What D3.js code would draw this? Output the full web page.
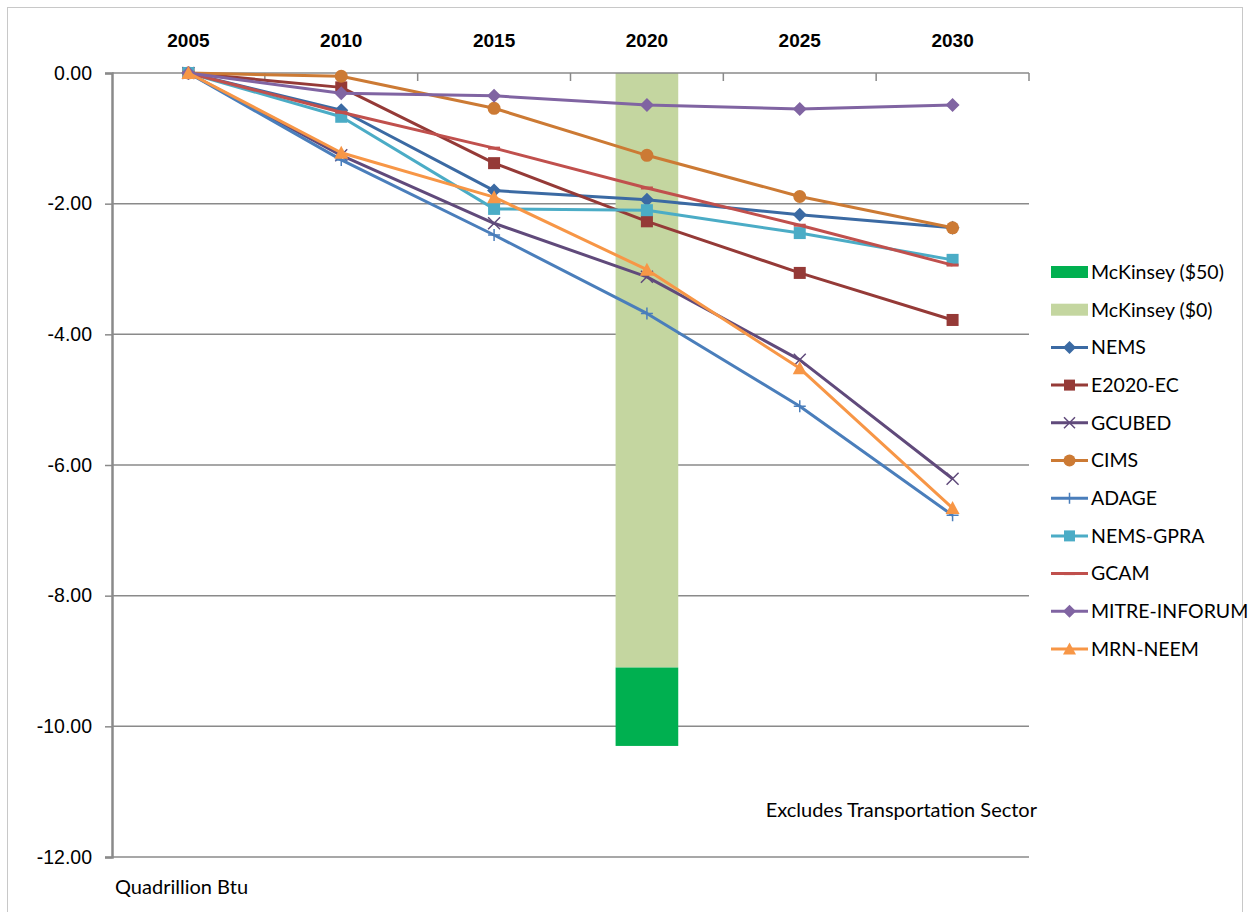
<!DOCTYPE html>
<html lang="en">
<head>
  <meta charset="UTF-8">
  <title>Energy reduction by model</title>
  <script src="https://d3js.org/d3.v7.min.js"></script>
  <style>
    body {
      margin: 0;
      background: #ffffff;
    }
    svg {
      font-family: Lato, "Open Sans", sans-serif;
    }
    .yaxis text {
      font-size: 19.5px;
      fill: #000;
    }
    .xaxis text {
      font-size: 19px;
      font-weight: bold;
      fill: #000;
    }
    .legend text {
      font-size: 19.5px;
      fill: #000;
    }
  </style>
</head>
<body>
  <svg width="1250" height="912"></svg>

  <script>
    // data
    const years = ["2005", "2010", "2015", "2020", "2025", "2030"];
    const yTicks = [0, -2, -4, -6, -8, -10, -12];

    const mckinseyYear = "2020";
    const mckinsey0 = -9.1;    // McKinsey ($0)
    const mckinsey50 = -10.3;  // McKinsey ($50), bottom of the stacked bar

    const nems        = [0, -0.57, -1.80, -1.94, -2.17, -2.37];
    const e2020ec     = [0, -0.22, -1.38, -2.27, -3.06, -3.78];
    const gcubed      = [0, -1.26, -2.30, -3.12, -4.39, -6.21];
    const cims        = [0, -0.05, -0.54, -1.26, -1.89, -2.37];
    const adage       = [0, -1.33, -2.48, -3.68, -5.10, -6.77];
    const nemsGpra    = [0, -0.67, -2.08, -2.10, -2.45, -2.86];
    const gcam        = [0, -0.60, -1.15, -1.76, -2.33, -2.94];
    const mitre       = [0, -0.31, -0.35, -0.49, -0.55, -0.49];
    const mrnNeem     = [0, -1.22, -1.90, -3.01, -4.52, -6.66];

    const series = [
      { name: "NEMS", values: nems, color: "#3b6aa3", marker: "diamond" },
      { name: "E2020-EC", values: e2020ec, color: "#953a37", marker: "square" },
      { name: "GCUBED", values: gcubed, color: "#604a7b", marker: "x" },
      { name: "CIMS", values: cims, color: "#cc7a34", marker: "circle" },
      { name: "ADAGE", values: adage, color: "#4a7ebb", marker: "plus" },
      { name: "NEMS-GPRA", values: nemsGpra, color: "#4bacc6", marker: "square" },
      { name: "GCAM", values: gcam, color: "#c0504d", marker: "dash" },
      { name: "MITRE-INFORUM", values: mitre, color: "#8064a2", marker: "diamond" },
      { name: "MRN-NEEM", values: mrnNeem, color: "#f79646", marker: "triangle" }
    ];

    const svg = d3.select("svg");

    // outer chart frame
    svg.append("rect")
      .attr("x", 7.5).attr("y", 7.5)
      .attr("width", 1235).attr("height", 920)
      .attr("fill", "none")
      .attr("stroke", "#c8c8c8");

    const x = d3.scaleBand()
      .domain(years)
      .range([112, 1029])
      .padding(0);

    const y = d3.scaleLinear()
      .domain([-12, 0])
      .range([857, 73]);

    // gridlines
    svg.append("g")
      .selectAll("line")
      .data(yTicks.filter(d => d !== 0))
      .join("line")
      .attr("x1", 112).attr("x2", 1029)
      .attr("y1", d => y(d)).attr("y2", d => y(d))
      .attr("stroke", "#8a8a8a")
      .attr("stroke-width", 1.5);

    // McKinsey bars
    const bw = x.bandwidth() * 0.41;
    const bx = x(mckinseyYear) + (x.bandwidth() - bw) / 2;
    svg.append("rect")
      .attr("x", bx).attr("width", bw)
      .attr("y", y(0)).attr("height", y(mckinsey0) - y(0))
      .attr("fill", "#c4d6a0");
    svg.append("rect")
      .attr("x", bx).attr("width", bw)
      .attr("y", y(mckinsey0)).attr("height", y(mckinsey50) - y(mckinsey0))
      .attr("fill", "#00b050");

    // y axis
    const yAxis = svg.append("g")
      .attr("class", "yaxis")
      .attr("transform", "translate(112,0)")
      .call(d3.axisLeft(y).tickValues(yTicks).tickSize(7).tickPadding(13)
        .tickFormat(d => d.toFixed(2)));
    yAxis.select(".domain").attr("stroke", "#8a8a8a").attr("stroke-width", 2.5);
    yAxis.selectAll(".tick line").attr("stroke", "#8a8a8a").attr("stroke-width", 1.5);

    // top category axis at zero
    const xAxis = svg.append("g")
      .attr("class", "xaxis")
      .attr("transform", `translate(0,${y(0)})`)
      .call(d3.axisTop(x).tickSize(0).tickPadding(26));
    xAxis.select(".domain").remove();
    svg.append("line")
      .attr("x1", 112).attr("x2", 1029)
      .attr("y1", y(0)).attr("y2", y(0))
      .attr("stroke", "#8a8a8a").attr("stroke-width", 1.5);
    svg.append("g")
      .selectAll("line")
      .data(years.slice(1).concat(["end"]))
      .join("line")
      .attr("x1", d => d === "end" ? 1029 : x(d))
      .attr("x2", d => d === "end" ? 1029 : x(d))
      .attr("y1", y(0)).attr("y2", y(0) + 8)
      .attr("stroke", "#8a8a8a").attr("stroke-width", 1.5);

    const cx = i => x(years[i]) + x.bandwidth() / 2;

    function drawMarker(g, type, color, size) {
      const s = size;
      const h = s / 2;
      if (type === "diamond") {
        g.append("path").attr("d", `M0,${-h - 1}L${h + 1},0L0,${h + 1}L${-h - 1},0Z`)
          .attr("fill", color);
      } else if (type === "square") {
        g.append("rect").attr("x", -h).attr("y", -h)
          .attr("width", s).attr("height", s).attr("fill", color);
      } else if (type === "circle") {
        g.append("circle").attr("r", h + 0.5).attr("fill", color);
      } else if (type === "triangle") {
        g.append("path").attr("d", `M0,${-h - 1}L${h + 1},${h}L${-h - 1},${h}Z`)
          .attr("fill", color);
      } else if (type === "x") {
        g.append("path").attr("d", `M${-h},${-h}L${h},${h}M${-h},${h}L${h},${-h}`)
          .attr("stroke", color).attr("stroke-width", 1.5).attr("fill", "none");
      } else if (type === "plus") {
        g.append("path").attr("d", `M${-h},0L${h},0M0,${-h}L0,${h}`)
          .attr("stroke", color).attr("stroke-width", 1.5).attr("fill", "none");
      } else if (type === "dash") {
        g.append("path").attr("d", `M${-h},0L${h},0`)
          .attr("stroke", color).attr("stroke-width", 3).attr("fill", "none");
      }
    }

    const line = d3.line()
      .x((d, i) => cx(i))
      .y(d => y(d));

    series.forEach(s => {
      const g = svg.append("g");
      g.append("path")
        .datum(s.values)
        .attr("d", line)
        .attr("fill", "none")
        .attr("stroke", s.color)
        .attr("stroke-width", 3)
        .attr("stroke-linejoin", "round");
      s.values.forEach((v, i) => {
        const m = g.append("g").attr("transform", `translate(${cx(i)},${y(v)})`);
        drawMarker(m, s.marker, s.color, 12);
      });
    });

    // legend
    const legend = svg.append("g").attr("class", "legend");
    const legendItems = [
      { name: "McKinsey ($50)", color: "#00b050", marker: "box" },
      { name: "McKinsey ($0)", color: "#c4d6a0", marker: "box" }
    ].concat(series);

    const ly = d3.scalePoint()
      .domain(legendItems.map(d => d.name))
      .range([272, 649]);

    legendItems.forEach(d => {
      const g = legend.append("g").attr("transform", `translate(0,${ly(d.name)})`);
      if (d.marker === "box") {
        g.append("rect").attr("x", 1051).attr("y", -6).attr("width", 37).attr("height", 12)
          .attr("fill", d.color);
      } else {
        g.append("line").attr("x1", 1051).attr("x2", 1088)
          .attr("stroke", d.color).attr("stroke-width", 3);
        const m = g.append("g").attr("transform", "translate(1069.5,0)");
        drawMarker(m, d.marker, d.color, 11);
      }
      g.append("text")
        .attr("x", 1091).attr("y", 0).attr("dy", "0.35em")
        .text(d.name);
    });

    // notes
    svg.append("text")
      .attr("x", 1037).attr("y", 817)
      .attr("text-anchor", "end")
      .attr("font-size", 20)
      .text("Excludes Transportation Sector");
    svg.append("text")
      .attr("x", 115).attr("y", 894)
      .attr("font-size", 20)
      .text("Quadrillion Btu");
  </script>
</body>
</html>
